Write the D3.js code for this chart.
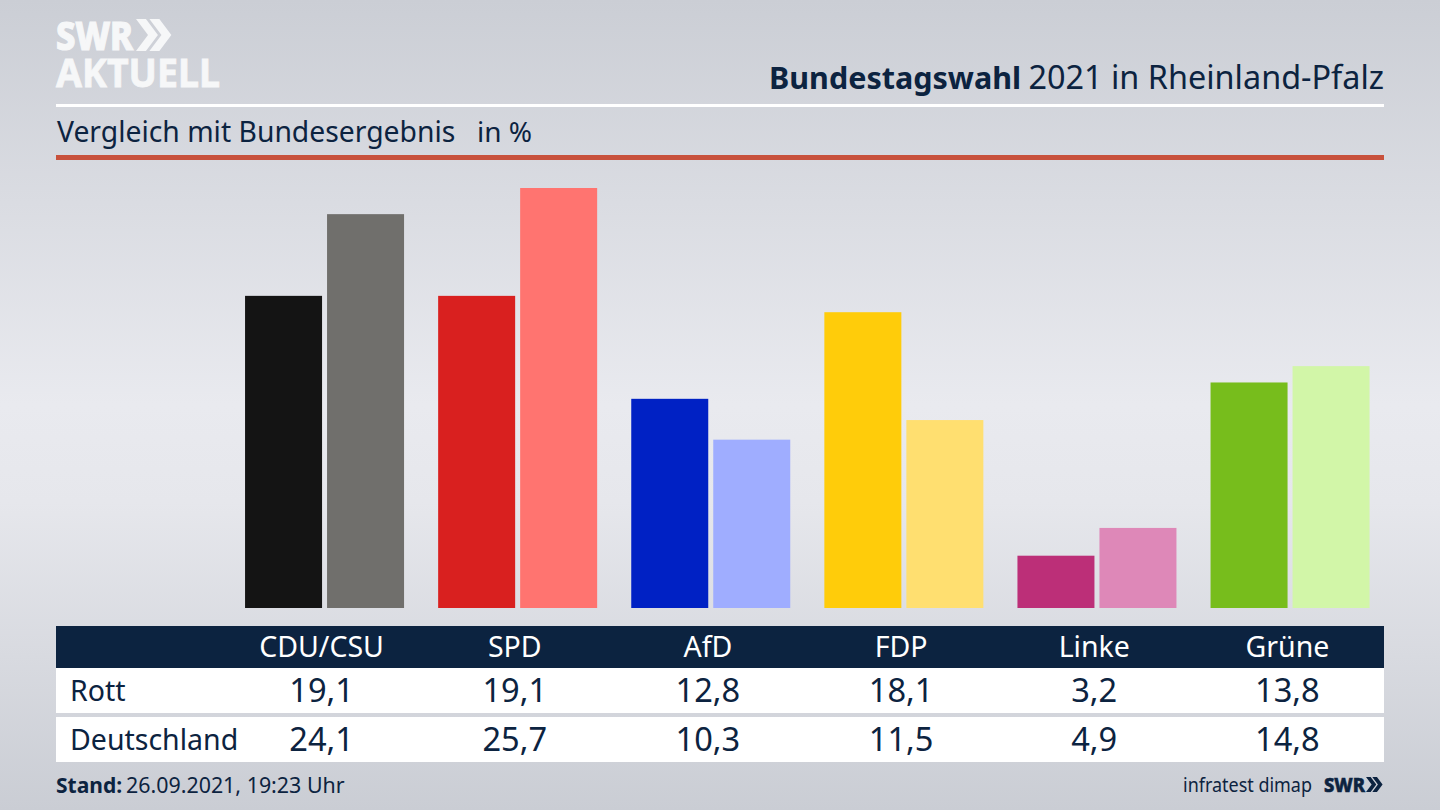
<!DOCTYPE html>
<html>
<head>
<meta charset="utf-8">
<script src="https://d3js.org/d3.v7.min.js"></script>
<style>
  html, body { margin: 0; padding: 0; background: #d8dae0; }
  svg { display: block; }
  text { font-family: "Noto Sans", sans-serif; fill: #0c2340; }
</style>
</head>
<body>
<svg id="chart" width="1440" height="810" viewBox="0 0 1440 810"></svg>
<script>
const parties = ["CDU/CSU", "SPD", "AfD", "FDP", "Linke", "Grüne"]
const rott = [19.1, 19.1, 12.8, 18.1, 3.2, 13.8]
const deutschland = [24.1, 25.7, 10.3, 11.5, 4.9, 14.8]
const rottColors = ["#141414", "#d9201f", "#0021c4", "#ffcc0a", "#bc2f78", "#77bd1c"]
const deColors = ["#706f6c", "#ff7470", "#9fadff", "#ffdf70", "#de88b8", "#d2f6a8"]
const rowNames = ["Rott", "Deutschland"]
const rows = [rott, deutschland]

const svg = d3.select("#chart")
const navy = "#0c2340"
const fmt = v => String(v.toFixed(1)).replace(".", ",")

// background
const defs = svg.append("defs")
const grad = defs.append("linearGradient").attr("id", "bg")
    .attr("x1", 0).attr("y1", 0).attr("x2", 0).attr("y2", 1)
grad.selectAll("stop")
    .data([[0, "#cbced5"], [0.5, "#e9eaef"], [0.62, "#e6e7ec"], [1, "#cacdd4"]])
    .join("stop")
    .attr("offset", d => d[0])
    .attr("stop-color", d => d[1])
svg.append("rect").attr("width", 1440).attr("height", 810).attr("fill", "url(#bg)")

// header
const chevrons = (g, x, y, h, fill) => {
    const w = h * 0.5
    ;[0, h * 0.42].forEach(dx => {
        g.append("path")
            .attr("d", `M${x + dx},${y} L${x + dx + w * 0.62},${y} L${x + dx + w * 0.62 + w * 0.75},${y + h / 2} L${x + dx + w * 0.62},${y + h} L${x + dx},${y + h} L${x + dx + w * 0.75},${y + h / 2} Z`)
            .attr("fill", fill)
    })
}
const logo = svg.append("g")
logo.append("text").attr("x", 56).attr("y", 50).text("SWR")
    .style("fill", "#f6f7f8").style("stroke", "#f6f7f8").style("stroke-width", 1.2)
    .style("font-size", "39px").style("font-weight", 800)
    .attr("textLength", 77).attr("lengthAdjust", "spacingAndGlyphs")
chevrons(logo, 136, 19, 32, "#f6f7f8")
logo.append("text").attr("x", 56).attr("y", 87).text("AKTUELL")
    .style("fill", "#f6f7f8").style("stroke", "#f6f7f8").style("stroke-width", 0.8)
    .style("font-size", "40px").style("font-weight", 700)
    .attr("textLength", 164).attr("lengthAdjust", "spacingAndGlyphs")

svg.append("text").attr("x", 769).attr("y", 89).text("Bundestagswahl")
    .style("font-size", "30.5px").style("font-weight", 700)
svg.append("text").attr("x", 1384).attr("y", 89).attr("text-anchor", "end").text("2021 in Rheinland-Pfalz")
    .style("font-size", "32.4px")

svg.append("rect").attr("x", 56).attr("y", 104).attr("width", 1328).attr("height", 3).attr("fill", "#fff")
svg.append("text").attr("x", 57).attr("y", 142).text("Vergleich mit Bundesergebnis")
    .style("font-size", "28.3px")
svg.append("text").attr("x", 477).attr("y", 142).text("in %")
    .style("font-size", "28px")
svg.append("rect").attr("x", 56).attr("y", 155).attr("width", 1328).attr("height", 5).attr("fill", "#c8513c")

// bars
const x = d3.scaleBand().domain(parties).range([228, 1386.6])
const groupWidth = 159
const inner = d3.scaleBand().domain([0, 1]).range([0, groupWidth]).paddingInner(5 / 82)
const y = d3.scaleLinear().domain([0, 25.7]).range([608, 188])

const groups = svg.append("g").selectAll("g")
    .data(parties)
    .join("g")
    .attr("transform", d => `translate(${x(d) + (x.bandwidth() - groupWidth) / 2},0)`)
groups.selectAll("rect")
    .data((d, i) => [
        { s: 0, v: rott[i], c: rottColors[i] },
        { s: 1, v: deutschland[i], c: deColors[i] }
    ])
    .join("rect")
    .attr("x", d => inner(d.s))
    .attr("width", inner.bandwidth())
    .attr("y", d => y(d.v))
    .attr("height", d => y(0) - y(d.v))
    .attr("fill", d => d.c)

// table
const col = d3.scaleBand().domain(parties).range([225, 1384])
const rowTop = [668, 717]
const rowH = 45
svg.append("rect").attr("x", 56).attr("y", 626).attr("width", 1328).attr("height", 42).attr("fill", navy)
const axis = svg.append("g").attr("transform", "translate(0,626)")
    .call(d3.axisBottom(col).tickSize(0).tickPadding(0))
axis.select(".domain").remove()
axis.selectAll("text")
    .attr("y", 31).attr("dy", null)
    .style("fill", "#fff").style("font-size", "28.5px").style("font-family", '"Noto Sans", sans-serif')

rows.forEach((vals, r) => {
    svg.append("rect").attr("x", 56).attr("y", rowTop[r]).attr("width", 1328).attr("height", rowH).attr("fill", "#fff")
    svg.append("text").attr("x", 70).attr("y", rowTop[r] + 33).text(rowNames[r]).style("font-size", "28.5px")
    svg.append("g").selectAll("text")
        .data(vals)
        .join("text")
        .attr("x", (d, i) => col(parties[i]) + col.bandwidth() / 2)
        .attr("y", rowTop[r] + 34)
        .attr("text-anchor", "middle")
        .style("font-size", "32.6px")
        .text(fmt)
})

// footer
svg.append("text").attr("x", 56).attr("y", 793).text("Stand:")
    .style("font-size", "21px").style("font-weight", 700)
svg.append("text").attr("x", 126).attr("y", 793).text("26.09.2021, 19:23 Uhr")
    .style("font-size", "21.4px")
svg.append("text").attr("x", 1183).attr("y", 792).text("infratest dimap")
    .style("font-size", "20px")
    .attr("textLength", 129).attr("lengthAdjust", "spacingAndGlyphs")
svg.append("text").attr("x", 1324).attr("y", 792).text("SWR")
    .style("stroke", navy).style("stroke-width", 0.6)
    .style("font-size", "20px").style("font-weight", 800)
    .attr("textLength", 41).attr("lengthAdjust", "spacingAndGlyphs")
chevrons(svg.append("g"), 1366, 777, 15, navy)
</script>
</body>
</html>
